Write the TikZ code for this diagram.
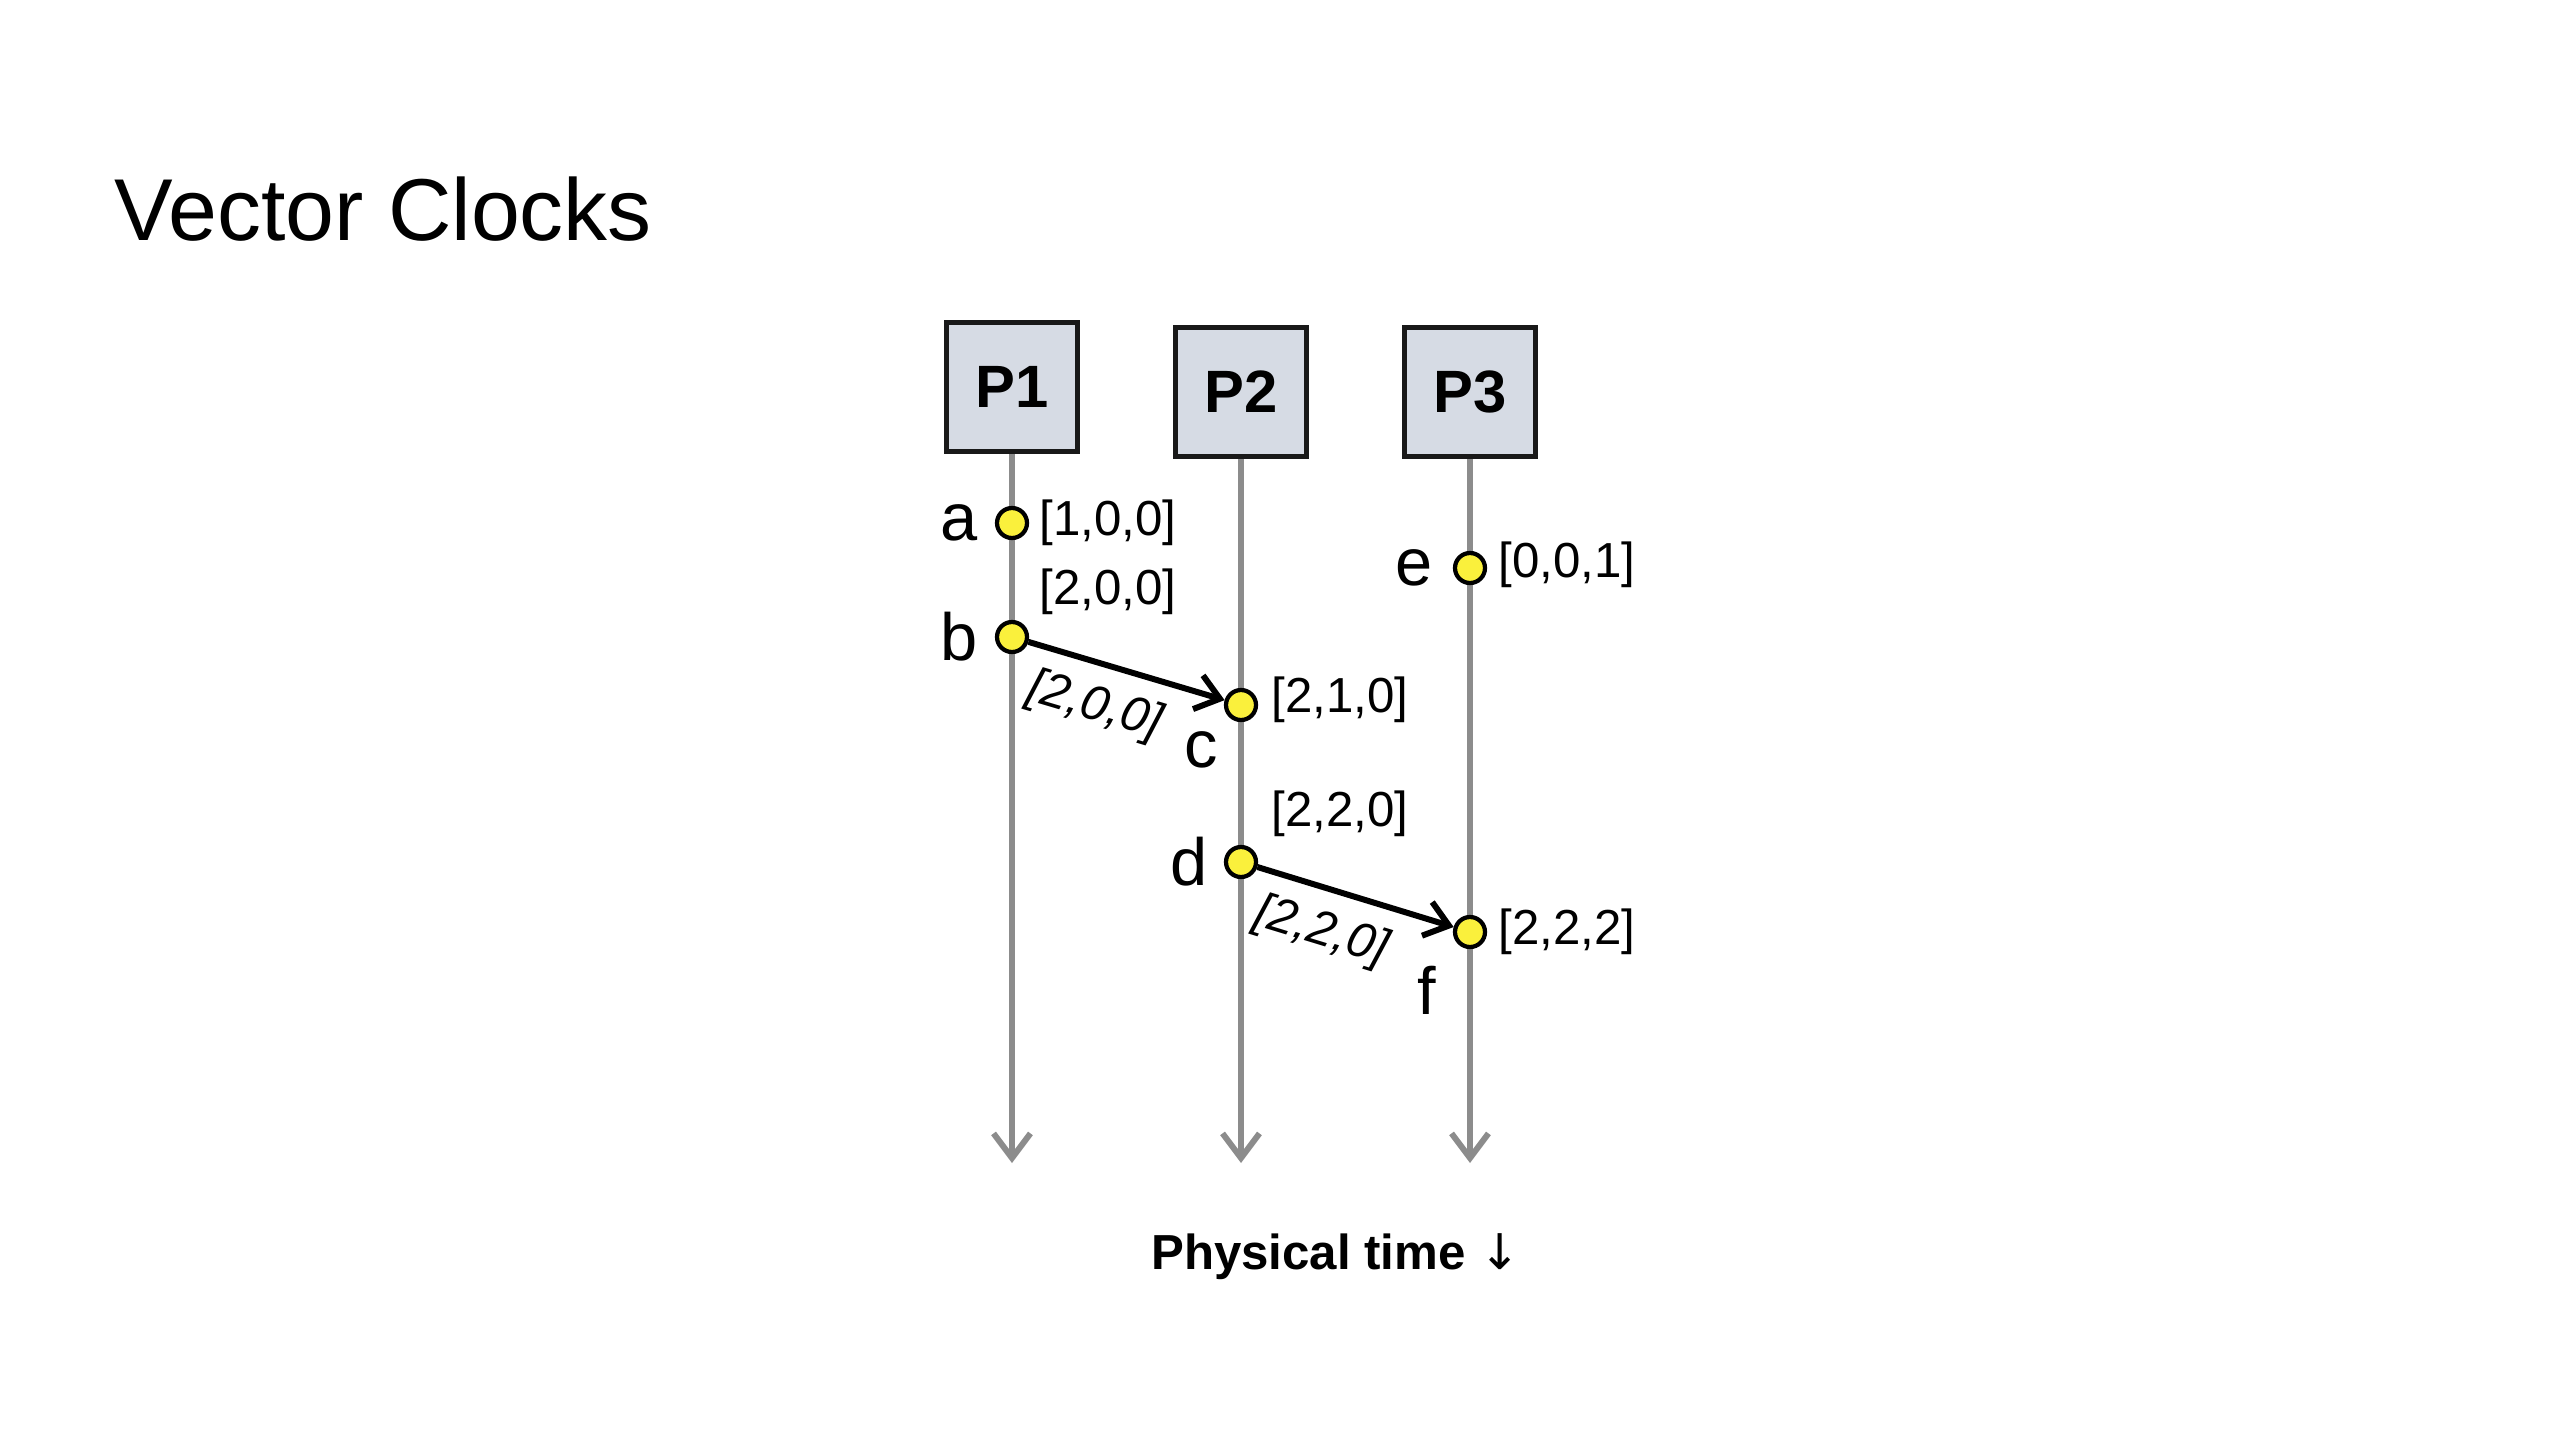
\documentclass[tikz,border=0pt]{standalone}
\usepackage{fontspec}
\setmainfont{Liberation Sans}
\newfontfamily\arrowfont{DejaVu Sans}
\usetikzlibrary{arrows.meta,positioning}
\definecolor{procfill}{RGB}{214,219,228}
\definecolor{evfill}{RGB}{250,240,60}
\definecolor{linegray}{RGB}{140,140,140}
\tikzset{
 proc/.style={draw=black!90,line width=1.5pt,fill=procfill,minimum width=1.31cm,
              minimum height=1.29cm,font=\fontsize{17}{20}\selectfont\bfseries},
 event/.style={circle,draw,line width=1.2pt,fill=evfill,minimum size=0.3cm,inner sep=0pt},
 evname/.style={inner sep=1pt,font=\fontsize{19}{22}\selectfont},
 vclock/.style={inner sep=1pt,font=\fontsize{14}{16}\selectfont},
 msgclock/.style={inner sep=1pt,sloped,font=\fontsize{14}{16}\selectfont\itshape},
 lifeline/.style={-{Straight Barb[length=7pt,width=10.5pt]},line width=1.7pt,draw=linegray},
 msg/.style={-{Straight Barb[length=6.5pt,width=10pt]},line width=1.7pt}
}
\begin{document}
\begin{tikzpicture}
\useasboundingbox (0,0) rectangle (25.6,-14.4);
\node[anchor=base west,inner sep=0pt,font=\fontsize{25}{30}\selectfont] (title) at (1.14,-2.40) {Vector Clocks};
\node[proc] (p1) at (10.12,-3.87) {P1};
\node[proc] (p2) at (12.41,-3.92) {P2};
\node[proc] (p3) at (14.70,-3.92) {P3};
\coordinate (p1end) at (10.12,-11.63);
\coordinate (p2end) at (12.41,-11.63);
\coordinate (p3end) at (14.70,-11.63);
\draw[lifeline] (p1)--(p1end);
\draw[lifeline] (p2)--(p2end);
\draw[lifeline] (p3)--(p3end);
\node[event] (a) at (10.12,-5.23) {};
\node[event] (b) at (10.12,-6.37) {};
\node[event] (c) at (12.41,-7.05) {};
\node[event] (d) at (12.41,-8.62) {};
\node[event] (e) at (14.70,-5.68) {};
\node[event] (f) at (14.70,-9.32) {};
\node[evname,left=0.13cm of a] (aname) {a};
\node[evname,left=0.13cm of b] (bname) {b};
\node[evname,below left=0.1cm and 0.07cm of c] (cname) {c};
\node[evname,left=0.12cm of d] (dname) {d};
\node[evname,left=0.16cm of e] (ename) {e};
\node[evname,below left=0.18cm and 0.18cm of f] (fname) {f};
\node[vclock,right=0.065cm of a] (aclock) {[1,0,0]};
\node[vclock,above right=0.06cm and 0.11cm of b] (bclock) {[2,0,0]};
\node[vclock,right=0.095cm of c,yshift=0.05cm] (cclock) {[2,1,0]};
\node[vclock,above right=0.09cm and 0.14cm of d] (dclock) {[2,2,0]};
\node[vclock,right=0.075cm of e,yshift=0.03cm] (eclock) {[0,0,1]};
\node[vclock,right=0.075cm of f] (fclock) {[2,2,2]};
\draw[msg] (b)--node[msgclock,below=4pt,pos=0.40] (bcclock) {[2,0,0]} (c);
\draw[msg] (d)--node[msgclock,below=4pt,pos=0.39] (dfclock) {[2,2,0]} (f);
\node[font=\fontsize{14}{16}\selectfont\bfseries] (ptime) at (13.36,-12.57) {Physical time {\arrowfont\mdseries ↓}};
\end{tikzpicture}
\end{document}
